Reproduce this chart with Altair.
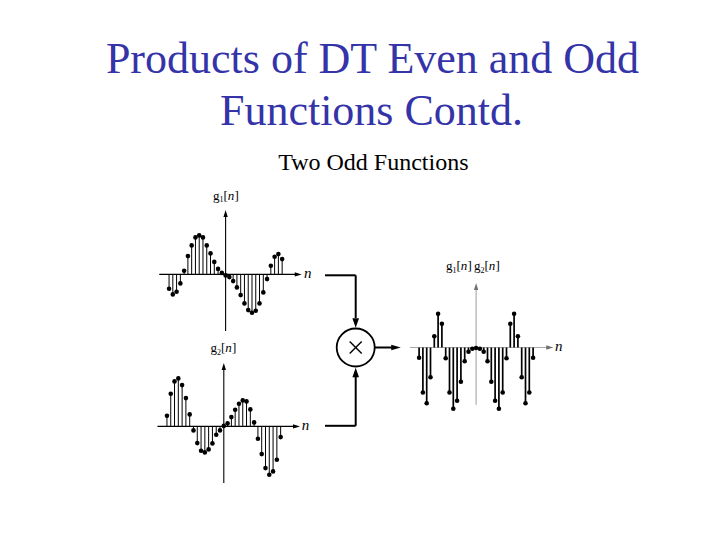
import altair as alt
import pandas as pd

# ---------------- data ----------------
n_values = list(range(-15, 16))
g1_values = [-14.3, -20.0, -17.3, -9.0, 3.7, 18.3, 29.0, 37.0, 39.0, 37.0, 29.0, 21.0, 12.5, 5.5, 1.5,
             -1.0,
             -2.7, -6.7, -13.0, -20.7, -29.0, -35.7, -38.3, -36.3, -29.0, -18.0, -4.7, 8.7, 17.7, 20.3, 15.3]
g2_values = [10.7, 32.7, 45.0, 48.0, 41.3, 28.3, 12.0, -4.0, -16.7, -24.3, -26.0, -23.0, -17.0, -8.3, -4.0,
             0.5,
             3.0, 9.3, 16.7, 22.7, 26.0, 25.0, 17.0, 4.0, -12.3, -27.7, -41.7, -48.3, -45.0, -33.3, -10.7]
prod_values = [-10.3, -45.0, -55.7, -29.7, 11.3, 33.7, 23.7, -10.7, -45.0, -61.3, -53.3, -34.3, -13.7, -4.3, -1.3,
               -0.5,
               -1.3, -4.3, -13.7, -34.3, -53.3, -61.3, -45.0, -10.7, 23.7, 33.7, 11.3, -29.7, -55.7, -45.0, -10.3]

title_lines = ["Products of DT Even and Odd", "Functions Contd."]
subtitle = "Two Odd Functions"

# ---------------- layout ----------------
W, H, M = 704, 524, 8
SERIF = "Liberation Serif"

ARROW_R = "M-1,-0.62L1,0L-1,0.62Z"
ARROW_U = "M-0.62,1L0,-1L0.62,1Z"
ARROW_D = "M-0.7,-1L0,1L0.7,-1Z"
ARROW_U2 = "M-0.7,1L0,-1L0.7,1Z"
ARROW_R2 = "M-1,-0.6L1,0L-1,0.6Z"

cx = alt.Scale(domain=[M, M + W], nice=False, zero=False)
cy = alt.Scale(domain=[M, M + H], reverse=True, nice=False, zero=False)


def CX(f):
    return alt.X(f, type="quantitative", scale=cx, axis=None)


def CY(f):
    return alt.Y(f, type="quantitative", scale=cy, axis=None)


layers = []

# titles
tdf = pd.DataFrame({
    "text": title_lines + [subtitle],
    "x": [372.5, 371.5, 373.3],
    "y": [73.3, 125.3, 169.5],
    "size": [44, 44, 24],
    "color": ["#3434A8", "#3434A8", "#000000"],
})
layers.append(
    alt.Chart(tdf).mark_text(font=SERIF, align="center", baseline="alphabetic").encode(
        x=CX("x"), y=CY("y"), text="text:N",
        size=alt.Size("size:Q", scale=None), color=alt.Color("color:N", scale=None))
)

# block diagram connectors
conn = pd.DataFrame({
    "x": [325.0, 355.7, 325.0, 355.7, 374.7, 355.7 - 6, 355.7 - 6],
    "x2": [355.7, 355.7, 355.7, 355.7, 393.0, 355.7 + 6, 355.7 + 6],
    "y": [275.3, 275.3, 425.8, 425.8, 347.5, 341.5, 353.5],
    "y2": [275.3, 318.0, 425.8, 377.0, 347.5, 353.5, 341.5],
    "w": [2, 2, 2, 2, 2, 1.4, 1.4],
})
layers.append(
    alt.Chart(conn).mark_rule(color="black", strokeCap="butt").encode(
        x=CX("x"), x2="x2:Q", y=CY("y"), y2="y2:Q",
        strokeWidth=alt.StrokeWidth("w:Q", scale=None))
)
# arrow heads of the diagram
for path, px, py in [(ARROW_D, 355.7, 323.0), (ARROW_U2, 355.7, 372.5), (ARROW_R2, 396.0, 347.5)]:
    layers.append(
        alt.Chart(pd.DataFrame({"x": [px], "y": [py]})).mark_point(
            shape=path, size=90, filled=True, color="black", opacity=1, strokeWidth=0).encode(
            x=CX("x"), y=CY("y"))
    )
# multiplier circle
layers.append(
    alt.Chart(pd.DataFrame({"x": [355.7], "y": [347.5]})).mark_point(
        shape="circle", size=1444, filled=False, color="black", strokeWidth=1.8, opacity=1).encode(
        x=CX("x"), y=CY("y"))
)


# axis labels g1[n], g2[n], g1[n] g2[n]
def label_pieces(x0, base, sub):
    return [
        ("g", x0, base, 13, "normal"),
        (sub, x0 + 6.6, base + 2.5, 8, "normal"),
        ("[", x0 + 10.5, base, 13, "normal"),
        ("n", x0 + 14.8, base, 13, "italic"),
        ("]", x0 + 21.6, base, 13, "normal"),
    ]


pieces = (label_pieces(213.0, 199.5, "1") + label_pieces(210.5, 352.0, "2")
          + label_pieces(446.0, 270.0, "1") + label_pieces(474.0, 270.0, "2")
          + [("n", 304.0, 277.5, 15, "italic"), ("n", 301.7, 429.7, 15, "italic"),
             ("n", 555.0, 350.7, 15, "italic")])
pdf = pd.DataFrame(pieces, columns=["text", "x", "y", "size", "style"])
for style in ["normal", "italic"]:
    layers.append(
        alt.Chart(pdf[pdf["style"] == style]).mark_text(
            font=SERIF, align="left", baseline="alphabetic", fontStyle=style, color="black").encode(
            x=CX("x"), y=CY("y"), text="text:N", size=alt.Size("size:Q", scale=None))
    )

# ---------------- stem panels ----------------
panels = [
    dict(values=g1_values, ox=225.6, oy=274.4, dx=3.77, x0=-17.6, x1=20.2, y0=-56.5, y1=64.5,
         stem=1.0, axis="black", arrow="black"),
    dict(values=g2_values, ox=223.8, oy=426.4, dx=3.79, x0=-17.5, x1=20.1, y0=-56.6, y1=63.4,
         stem=1.0, axis="black", arrow="black"),
    dict(values=prod_values, ox=476.1, oy=347.5, dx=3.80, x0=-17.4, x1=20.3, y0=-57.2, y1=64.5,
         stem=1.7, axis="#a8a8a8", arrow="#707070"),
]

for p in panels:
    xs = alt.Scale(domain=[(M - p["ox"]) / p["dx"], (M + W - p["ox"]) / p["dx"]], nice=False, zero=False)
    ys = alt.Scale(domain=[p["oy"] - (M + H), p["oy"] - M], nice=False, zero=False)

    def PX(f, xs=xs):
        return alt.X(f, type="quantitative", scale=xs, axis=None)

    def PY(f, ys=ys):
        return alt.Y(f, type="quantitative", scale=ys, axis=None)

    ah = 3.5
    axdf = pd.DataFrame({
        "x": [p["x0"], 0.0], "x2": [p["x1"] - ah / p["dx"], 0.0],
        "y": [0.0, p["y0"]], "y2": [0.0, p["y1"] - ah],
    })
    layers.append(
        alt.Chart(axdf).mark_rule(color=p["axis"], strokeWidth=1.1).encode(
            x=PX("x"), x2="x2:Q", y=PY("y"), y2="y2:Q")
    )
    df = pd.DataFrame({"n": n_values, "v": p["values"], "z": 0.0})
    layers.append(
        alt.Chart(df).mark_rule(color="black", strokeWidth=p["stem"]).encode(
            x=PX("n"), y=PY("z"), y2="v:Q")
    )
    layers.append(
        alt.Chart(df).mark_circle(color="black", size=21, opacity=1).encode(
            x=PX("n"), y=PY("v"))
    )
    layers.append(
        alt.Chart(pd.DataFrame({"x": [p["x1"] - ah / p["dx"]], "y": [0.0]})).mark_point(
            shape=ARROW_R, size=49, filled=True, color=p["arrow"], opacity=1, strokeWidth=0).encode(
            x=PX("x"), y=PY("y"))
    )
    layers.append(
        alt.Chart(pd.DataFrame({"x": [0.0], "y": [p["y1"] - ah]})).mark_point(
            shape=ARROW_U, size=49, filled=True, color=p["arrow"], opacity=1, strokeWidth=0).encode(
            x=PX("x"), y=PY("y"))
    )

chart = alt.layer(*layers).resolve_scale(
    x="independent", y="independent"
).properties(
    width=W, height=H, padding=0, background="white",
    autosize=alt.AutoSizeParams(type="none"),
).configure_view(strokeWidth=0)

chart.save("out.html", embed_options={"renderer": "svg", "actions": False})
